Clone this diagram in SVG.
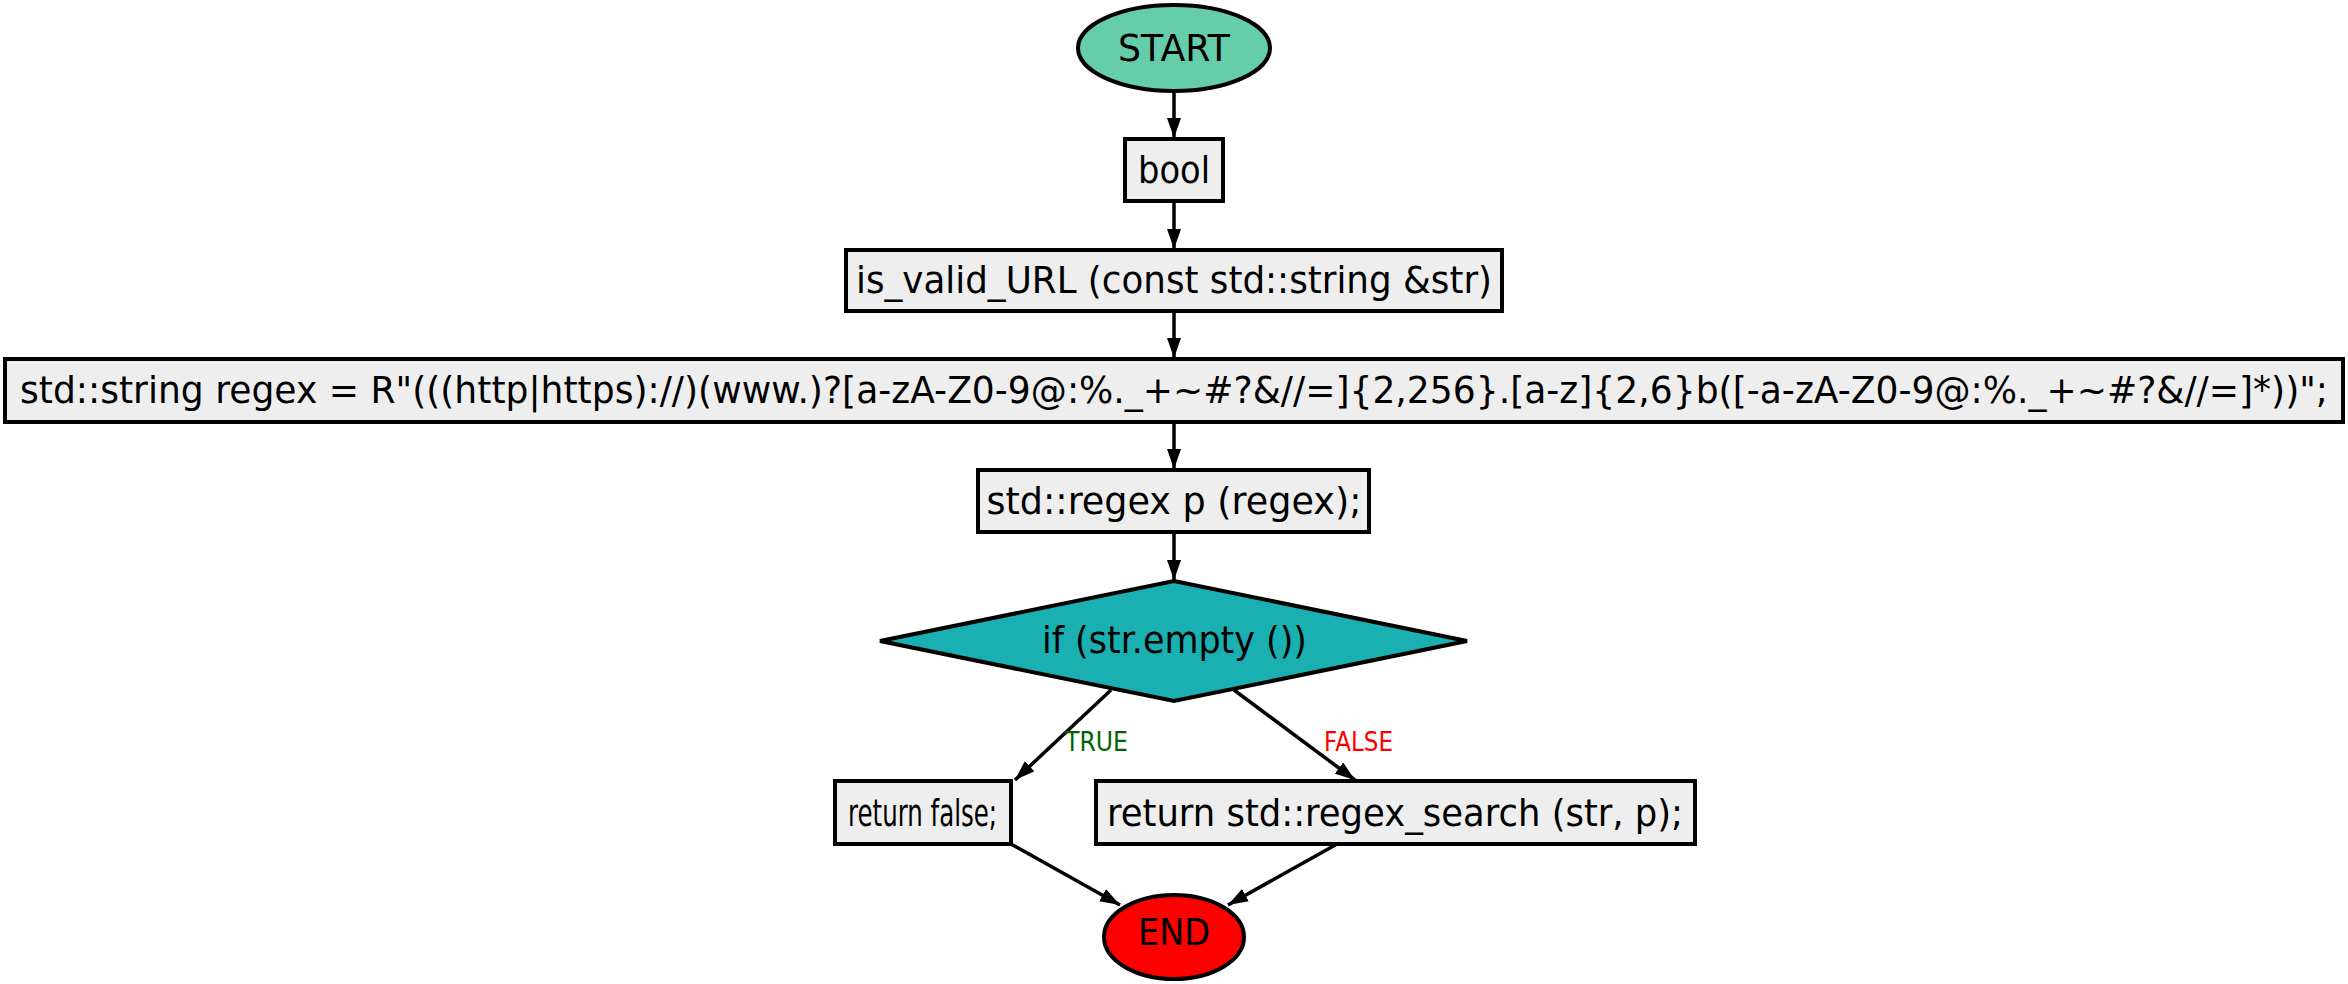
<svg xmlns="http://www.w3.org/2000/svg" width="2348" height="984" viewBox="0 0 2348 984">
<defs>
<style>
.n{stroke:#000;stroke-width:4}
.box{fill:#eeeeee}
.t{font-family:"DejaVu Sans",sans-serif;font-size:38px;text-anchor:middle;fill:#000}
.lbl{font-family:"DejaVu Sans",sans-serif;font-size:27px;text-anchor:middle}
.e{stroke:#000;stroke-width:3.5;fill:none;marker-end:url(#ah)}
</style>
<marker id="ah" viewBox="0 0 20 14" refX="20" refY="7" markerWidth="20" markerHeight="14" markerUnits="userSpaceOnUse" orient="auto">
<path d="M0,0 L20,7 L0,14 z" fill="#000"/>
</marker>
</defs>
<rect width="2348" height="984" fill="#fff"/>
<g id="edges">
<line class="e" x1="1174" y1="93" x2="1174" y2="138"/>
<line class="e" x1="1174" y1="201" x2="1174" y2="249"/>
<line class="e" x1="1174" y1="311" x2="1174" y2="358"/>
<line class="e" x1="1174" y1="422" x2="1174" y2="469"/>
<line class="e" x1="1174" y1="532" x2="1174" y2="580"/>
<line class="e" x1="1111" y1="690" x2="1015" y2="780"/>
<line class="e" x1="1234" y1="690" x2="1355" y2="780"/>
<line class="e" x1="1011" y1="844" x2="1120" y2="905"/>
<line class="e" x1="1337" y1="844" x2="1228" y2="905"/>
<text class="lbl" x="1096.5" y="751" fill="#006400" textLength="63" lengthAdjust="spacingAndGlyphs">TRUE</text>
<text class="lbl" x="1358.5" y="751" fill="#ff0000" textLength="69" lengthAdjust="spacingAndGlyphs">FALSE</text>
</g>
<g id="start">
<ellipse class="n" cx="1174" cy="48" rx="96" ry="43" fill="#66cdaa"/>
<text class="t" x="1174" y="61" textLength="112" lengthAdjust="spacingAndGlyphs">START</text>
</g>
<g id="bool">
<rect class="n box" x="1125" y="139" width="98" height="62"/>
<text class="t" x="1174" y="183" textLength="72" lengthAdjust="spacingAndGlyphs">bool</text>
</g>
<g id="func">
<rect class="n box" x="846" y="250" width="656" height="61"/>
<text class="t" x="1174" y="293" textLength="636" lengthAdjust="spacingAndGlyphs">is_valid_URL (const std::string &amp;str)</text>
</g>
<g id="regexstr">
<rect class="n box" x="5" y="359" width="2338" height="63"/>
<text class="t" x="1174" y="403" textLength="2308" lengthAdjust="spacingAndGlyphs">std::string regex = R"(((http|https)://)(www.)?[a-zA-Z0-9@:%._+~#?&amp;//=]{2,256}.[a-z]{2,6}b([-a-zA-Z0-9@:%._+~#?&amp;//=]*))";</text>
</g>
<g id="regexp">
<rect class="n box" x="978" y="470" width="391" height="62"/>
<text class="t" x="1174" y="514" textLength="375" lengthAdjust="spacingAndGlyphs">std::regex p (regex);</text>
</g>
<g id="cond">
<polygon class="n" points="1174,581 1467,641 1174,701 880,641" fill="#1aafb0"/>
<text class="t" x="1174.5" y="653" textLength="265" lengthAdjust="spacingAndGlyphs">if (str.empty ())</text>
</g>
<g id="retfalse">
<rect class="n box" x="835" y="781" width="176" height="63"/>
<text class="t" x="922.5" y="826" textLength="149" lengthAdjust="spacingAndGlyphs">return false;</text>
</g>
<g id="retsearch">
<rect class="n box" x="1096" y="781" width="599" height="63"/>
<text class="t" x="1395" y="826" textLength="576" lengthAdjust="spacingAndGlyphs">return std::regex_search (str, p);</text>
</g>
<g id="end">
<ellipse class="n" cx="1174" cy="937" rx="70" ry="42" fill="#ff0000"/>
<text class="t" x="1174" y="945" textLength="72" lengthAdjust="spacingAndGlyphs">END</text>
</g>
</svg>
